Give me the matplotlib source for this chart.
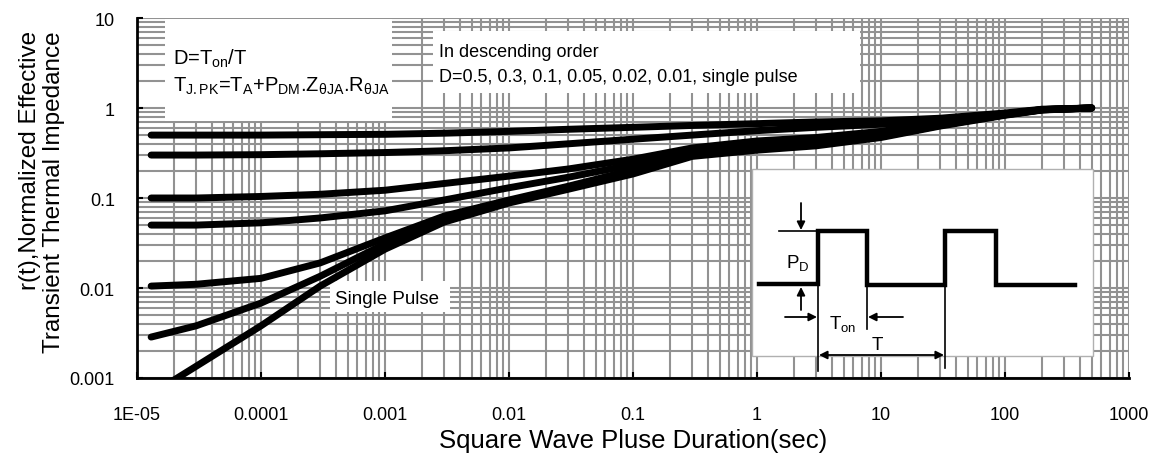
import matplotlib
matplotlib.use("Agg")
import matplotlib.pyplot as plt
from matplotlib.patches import Rectangle
from matplotlib.ticker import FixedLocator, LogLocator, NullFormatter

plt.rcParams['font.family'] = ['Liberation Sans', 'DejaVu Sans']
plt.rcParams['mathtext.fontset'] = 'custom'
plt.rcParams['mathtext.rm'] = 'Liberation Sans'
plt.rcParams['mathtext.it'] = 'Liberation Sans'
plt.rcParams['mathtext.default'] = 'regular'

# ---------------- data ----------------
t = [1.3e-5, 3e-5, 1e-4, 3e-4, 1e-3, 3e-3, 1e-2, 3e-2, 0.1, 0.3, 1, 3, 10, 30, 100, 200, 500]
z_d05 = [0.50, 0.50, 0.50, 0.505, 0.51, 0.525, 0.55, 0.58, 0.61, 0.64, 0.67, 0.70, 0.72, 0.77, 0.88, 0.97, 1.0]
z_d03 = [0.30, 0.30, 0.303, 0.31, 0.32, 0.335, 0.36, 0.40, 0.45, 0.50, 0.56, 0.61, 0.66, 0.73, 0.86, 0.96, 1.0]
z_d01 = [0.10, 0.10, 0.104, 0.11, 0.122, 0.145, 0.175, 0.21, 0.27, 0.36, 0.43, 0.47, 0.55, 0.70, 0.86, 0.96, 1.0]
z_d005 = [0.05, 0.05, 0.053, 0.06, 0.072, 0.095, 0.13, 0.17, 0.235, 0.33, 0.39, 0.43, 0.51, 0.67, 0.85, 0.96, 1.0]
z_d002 = [0.0105, 0.011, 0.0128, 0.019, 0.036, 0.063, 0.095, 0.135, 0.205, 0.31, 0.36, 0.40, 0.49, 0.65, 0.84, 0.955, 1.0]
z_d001 = [0.00285, 0.0038, 0.0068, 0.0135, 0.031, 0.058, 0.091, 0.13, 0.20, 0.30, 0.35, 0.39, 0.48, 0.64, 0.84, 0.955, 1.0]
z_single = [0.00066, 0.00135, 0.0038, 0.0105, 0.027, 0.054, 0.088, 0.125, 0.185, 0.29, 0.34, 0.38, 0.47, 0.63, 0.83, 0.95, 1.0]
series = [z_d05, z_d03, z_d01, z_d005, z_d002, z_d001, z_single]

x_ticks = [1e-5, 1e-4, 1e-3, 1e-2, 1e-1, 1, 10, 100, 1000]
x_tick_labels = ['1E-05', '0.0001', '0.001', '0.01', '0.1', '1', '10', '100', '1000']
y_ticks = [1e-3, 1e-2, 1e-1, 1, 10]
y_tick_labels = ['0.001', '0.01', '0.1', '1', '10']

x_label = 'Square Wave Pluse Duration(sec)'
y_label = 'r(t),Normalized Effective\nTransient Thermal Impedance'
box1_lines = ['D=T$_{on}$/T', 'T$_{J.PK}$=T$_{A}$+P$_{DM}$.Z$_{\u03b8JA}$.R$_{\u03b8JA}$']
box2_lines = ['In descending order', 'D=0.5, 0.3, 0.1, 0.05, 0.02, 0.01, single pulse']
single_label = 'Single Pulse'

# ---------------- figure ----------------
W, H = 1158, 460
fig = plt.figure(figsize=(W / 100, H / 100), dpi=100)
L, R, T, B = 137, 1129, 19, 379
ax = fig.add_axes([L / W, 1 - B / H, (R - L) / W, (B - T) / H])
ax.set_xscale('log')
ax.set_yscale('log')
ax.set_xlim(1e-5, 1000)
ax.set_ylim(1e-3, 10)
ax.set_axisbelow(True)

ax.xaxis.set_major_locator(FixedLocator(x_ticks))
ax.yaxis.set_major_locator(FixedLocator(y_ticks))
ax.set_xticklabels(x_tick_labels)
ax.set_yticklabels(y_tick_labels)
ax.xaxis.set_minor_locator(LogLocator(base=10, subs=range(2, 10), numticks=50))
ax.yaxis.set_minor_locator(LogLocator(base=10, subs=range(2, 10), numticks=50))
ax.xaxis.set_minor_formatter(NullFormatter())
ax.yaxis.set_minor_formatter(NullFormatter())
ax.grid(which='both', color='#929292', lw=1.5)
ax.tick_params(which='major', direction='in', length=4, width=1.5, color='black',
               labelsize=13, pad=20)
ax.tick_params(axis='y', which='major', pad=16)
ax.tick_params(which='minor', length=0)
for s in ['top', 'right']:
    ax.spines[s].set_visible(False)
for s in ['left', 'bottom']:
    ax.spines[s].set_linewidth(2)
    ax.spines[s].set_zorder(6)

ax.set_xlabel(x_label, fontsize=18.5, labelpad=4)
fig.text(42 / W, 1 - 192 / H, y_label, rotation=90, ha='center', va='center',
         multialignment='right', fontsize=17.5, linespacing=1.12)


def fx(px):
    return (px - L) / (R - L)


def fy(py):
    return (B - py) / (B - T)


def box(x0, y0, x1, y1, **kw):
    ax.add_patch(Rectangle((fx(x0), fy(y1)), fx(x1) - fx(x0), fy(y0) - fy(y1),
                           transform=ax.transAxes, facecolor='white', zorder=2, **kw))


box(165, 20, 392, 122, edgecolor='none')
box(433, 32, 860, 94, edgecolor='none')
box(330, 282, 450, 313, edgecolor='none')
box(752, 170, 1093, 357, edgecolor='#b0b0b0', lw=1)

for z in series:
    ax.plot(t, z, color='black', lw=5, solid_capstyle='round', solid_joinstyle='round', zorder=4)

ax.text(fx(173), fy(65), box1_lines[0], transform=ax.transAxes, fontsize=14.5, zorder=5)
ax.text(fx(173), fy(92), box1_lines[1], transform=ax.transAxes, fontsize=14.5, zorder=5)
ax.text(fx(439), fy(57), box2_lines[0], transform=ax.transAxes, fontsize=13, zorder=5)
ax.text(fx(439), fy(82), box2_lines[1], transform=ax.transAxes, fontsize=13, zorder=5)
ax.text(fx(335), fy(304), single_label, transform=ax.transAxes, fontsize=13.5, zorder=5)

# ---------------- inset schematic ----------------
ia = fig.add_axes([752 / W, 1 - 379 / H, (1093 - 752) / W, (379 - 170) / H])
ia.set_xlim(752, 1093)
ia.set_ylim(379, 170)
ia.axis('off')
ia.patch.set_alpha(0)

wave_x = [759, 818, 818, 867, 867, 945, 945, 996, 996, 1075]
wave_y = [285, 285, 232, 232, 286, 286, 232, 232, 286, 286]
ia.plot(wave_x, wave_y, color='black', lw=3.2, solid_joinstyle='miter', clip_on=False)
ia.plot([779, 818], [232, 232], color='black', lw=1.2, clip_on=False)
ia.plot([818, 818], [286, 372], color='black', lw=1.2, clip_on=False)
ia.plot([867, 867], [286, 330], color='black', lw=1.2, clip_on=False)
ia.plot([945, 945], [286, 369], color='black', lw=1.2, clip_on=False)

arr = dict(arrowstyle='-|>', color='black', lw=1.3, mutation_scale=12, shrinkA=0, shrinkB=0)
ia.annotate('', xy=(801, 231), xytext=(801, 204), arrowprops=arr, annotation_clip=False)
ia.annotate('', xy=(801, 288), xytext=(801, 311), arrowprops=arr, annotation_clip=False)
ia.annotate('', xy=(817, 318), xytext=(785, 318), arrowprops=arr, annotation_clip=False)
ia.annotate('', xy=(868, 318), xytext=(903, 318), arrowprops=arr, annotation_clip=False)
ia.annotate('', xy=(944, 356), xytext=(819, 356),
            arrowprops=dict(arrowstyle='<|-|>', color='black', lw=1.3, mutation_scale=12,
                            shrinkA=0, shrinkB=0), annotation_clip=False)
ia.text(786, 268, 'P$_{D}$', fontsize=13.5, va='baseline', clip_on=False)
ia.text(829, 329, 'T$_{on}$', fontsize=13.5, va='baseline', clip_on=False)
ia.text(872, 350, 'T', fontsize=13.5, va='baseline', clip_on=False)

fig.savefig('out.png', dpi=100)
